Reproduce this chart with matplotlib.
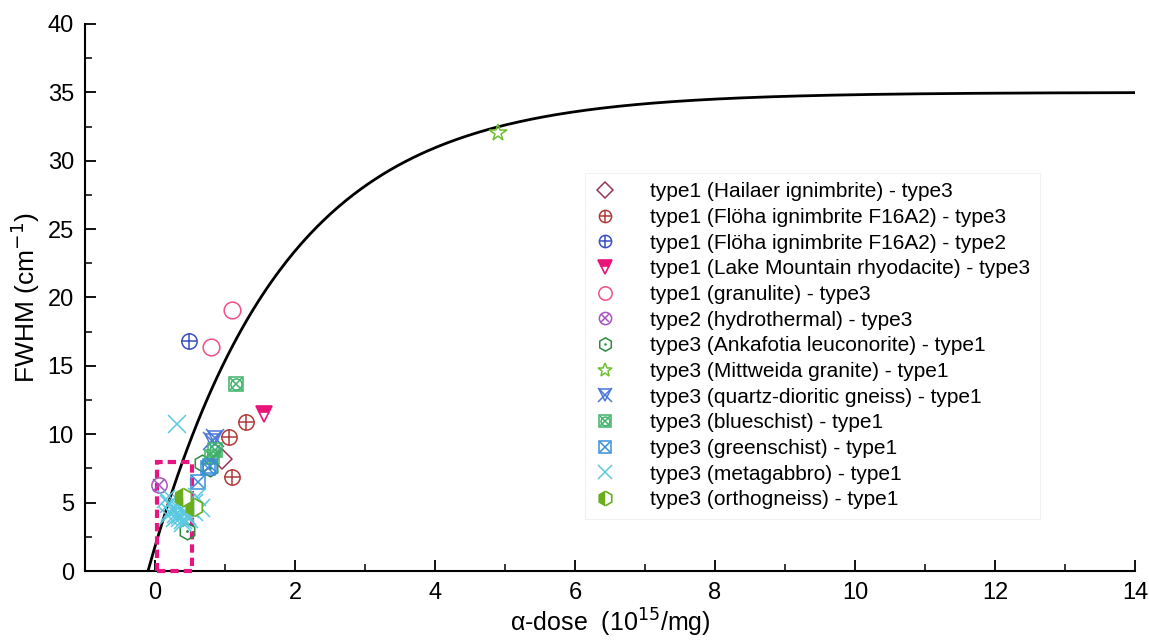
import numpy as np
import matplotlib
matplotlib.use("Agg")
import matplotlib.pyplot as plt
from matplotlib.patches import Rectangle

plt.rcParams['font.family'] = ['Liberation Sans', 'DejaVu Sans']

# ---- data ----
hailaer_x = [0.95]
hailaer_y = [8.2]
floha3_x = [1.30, 1.05, 1.10]
floha3_y = [10.87, 9.78, 6.9]
floha2_x = [0.48]
floha2_y = [16.84]
lake_x = [1.55]
lake_y = [11.5]
granulite_x = [1.10, 0.80]
granulite_y = [19.1, 16.4]
hydro_x = [0.06]
hydro_y = [6.29]
ankafotia_x = [0.67, 0.79, 0.45]
ankafotia_y = [7.87, 7.5, 2.9]
mittweida_x = [4.90]
mittweida_y = [32.0]
qdgneiss_x = [0.81, 0.86]
qdgneiss_y = [9.5, 9.75]
blueschist_x = [1.15, 0.86, 0.82]
blueschist_y = [13.7, 8.85, 8.3]
greenschist_x = [0.79, 0.76, 0.62]
greenschist_y = [7.68, 7.5, 6.48]
metagabbro_x = [0.31, 0.15, 0.20, 0.25, 0.30, 0.35, 0.40, 0.45, 0.50, 0.55,
                0.60, 0.22, 0.28, 0.33, 0.38, 0.43, 0.48, 0.18, 0.26, 0.36,
                0.46, 0.56, 0.65, 0.40]
metagabbro_y = [10.75, 5.3, 4.9, 4.6, 4.2, 3.9, 3.7, 4.0, 4.5, 5.0,
                5.4, 4.3, 3.9, 4.6, 4.9, 4.3, 3.8, 4.0, 5.2, 4.1,
                5.0, 4.3, 4.6, 3.5]
ortho_x = [0.40, 0.56]
ortho_y = [5.43, 4.7]

# fitted curve parameters
fit_A = 35.0
fit_B = 0.526
fit_D0 = -0.1

box_x = [0.03, 0.53]
box_y = [0.0, 8.0]

xticks = [0, 2, 4, 6, 8, 10, 12, 14]
yticks = [0, 5, 10, 15, 20, 25, 30, 35, 40]

fig = plt.figure(figsize=(11.49, 6.41), dpi=100)
ax = fig.add_axes([0.074, 0.1092, 0.9138, 0.8534])

xx = np.linspace(fit_D0, 14, 400)
ax.plot(xx, fit_A * (1 - np.exp(-fit_B * (xx - fit_D0))), color='black', lw=2, zorder=2)

ax.add_patch(Rectangle((box_x[0], box_y[0]), box_x[1] - box_x[0], box_y[1] - box_y[0],
                       fill=False, edgecolor='#E6157F', lw=3, ls=(0, (2, 1.2)), zorder=3,
                       clip_on=False))

ms = 11
mew = 1.1
handles = []
labels = []

def sc(x, y, marker, color, size=ms, **kw):
    return ax.plot(x, y, ls='none', marker=marker, ms=size, mfc='none', mec=color,
                   mew=kw.pop('mew', mew), zorder=4, **kw)[0]

c = '#9B3555'
h = sc(hailaer_x, hailaer_y, 'D', c, size=10)
handles.append(h); labels.append('type1 (Hailaer ignimbrite) - type3')

c = '#B23A3A'
h1 = sc(floha3_x, floha3_y, 'o', c)
h2 = sc(floha3_x, floha3_y, '+', c, size=11)
handles.append((h1, h2)); labels.append('type1 (Flöha ignimbrite F16A2) - type3')

c = '#3A4FC2'
h1 = sc(floha2_x, floha2_y, 'o', c)
h2 = sc(floha2_x, floha2_y, '+', c, size=11)
handles.append((h1, h2)); labels.append('type1 (Flöha ignimbrite F16A2) - type2')

c = '#E8147A'
h = ax.plot(lake_x, lake_y, ls='none', marker='v', ms=12, mfc=c, mec=c,
            mfcalt='white', fillstyle='top', mew=1.2, zorder=4)[0]
handles.append(h); labels.append('type1 (Lake Mountain rhyodacite) - type3')

c = '#F0508A'
h = sc(granulite_x, granulite_y, 'o', c, size=12)
handles.append(h); labels.append('type1 (granulite) - type3')

c = '#A855C0'
h1 = sc(hydro_x, hydro_y, 'o', c)
h2 = sc(hydro_x, hydro_y, 'x', c, size=8)
handles.append((h1, h2)); labels.append('type2 (hydrothermal) - type3')

c = '#2E8B3E'
h1 = sc(ankafotia_x, ankafotia_y, 'h', c, size=12)
h2 = ax.plot(ankafotia_x, ankafotia_y, ls='none', marker='.', ms=2, color=c, zorder=4)[0]
handles.append((h1, h2)); labels.append('type3 (Ankafotia leuconorite) - type1')

c = '#6CC030'
h = sc(mittweida_x, mittweida_y, '*', c, size=13)
handles.append(h); labels.append('type3 (Mittweida granite) - type1')

c = '#4A78D8'
h1 = sc(qdgneiss_x, qdgneiss_y, 'x', c, size=13)
h2 = sc(qdgneiss_x, qdgneiss_y, 'v', c, size=10)
handles.append((h1, h2)); labels.append('type3 (quartz-dioritic gneiss) - type1')

c = '#3DB36A'
h1 = sc(blueschist_x, blueschist_y, 's', c, size=10)
h2 = sc(blueschist_x, blueschist_y, 'o', c, size=8)
h3 = sc(blueschist_x, blueschist_y, 'x', c, size=9)
handles.append((h1, h2, h3)); labels.append('type3 (blueschist) - type1')

c = '#3A8FD8'
h1 = sc(greenschist_x, greenschist_y, 's', c, size=10)
h2 = sc(greenschist_x, greenschist_y, 'x', c, size=9)
handles.append((h1, h2)); labels.append('type3 (greenschist) - type1')

c = '#5BC8E0'
h = sc(metagabbro_x, metagabbro_y, 'x', c, size=13)
handles.append(h); labels.append('type3 (metagabbro) - type1')

c = '#6AAE1E'
h = ax.plot(ortho_x, ortho_y, ls='none', marker='h', ms=13, mfc=c, mec=c,
            mfcalt='white', fillstyle='left', mew=1.2, zorder=5)[0]
handles.append(h); labels.append('type3 (orthogneiss) - type1')

leg = ax.legend(handles, labels, loc='upper left', bbox_to_anchor=(0.4665, 0.7466),
                fontsize=15, frameon=True, fancybox=False, handlelength=1.0,
                handletextpad=1.66, labelspacing=0.32, borderpad=0.45,
                markerscale=0.8)
leg.get_frame().set_edgecolor('#EEEEEE')
leg.get_frame().set_linewidth(0.8)

ax.set_xlim(-1, 14)
ax.set_ylim(0, 40)
ax.set_xticks(xticks)
ax.set_yticks(yticks)
ax.set_xticks(np.arange(-1, 14.01, 1), minor=True)
ax.set_yticks(np.arange(0, 40.01, 2.5), minor=True)
ax.spines['top'].set_visible(False)
ax.spines['right'].set_visible(False)
ax.spines['left'].set_linewidth(1.5)
ax.spines['bottom'].set_linewidth(1.5)
ax.tick_params(which='major', direction='in', length=8, width=1.3, labelsize=17, pad=8)
ax.tick_params(which='minor', direction='in', length=5, width=1.1)

ax.set_ylabel('FWHM (cm$^{-1}$)', fontsize=19, labelpad=4)
ax.set_xlabel('α-dose  (10$^{15}$/mg)', fontsize=18, labelpad=2)

fig.savefig('out.png', dpi=100)
